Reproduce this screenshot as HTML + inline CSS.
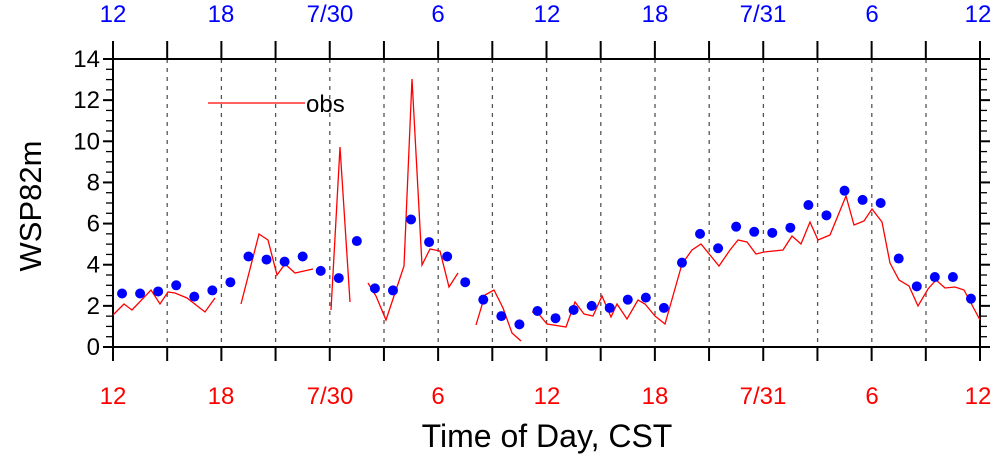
<!DOCTYPE html>
<html><head><style>body{margin:0;background:#fff}svg{display:block}text{font-family:"Liberation Sans",sans-serif}</style></head><body>
<svg width="1000" height="458" viewBox="0 0 1000 458" xmlns="http://www.w3.org/2000/svg">
<g stroke="#555" stroke-width="1.3" stroke-dasharray="4,5">
<line x1="167.2" y1="59" x2="167.2" y2="347"/><line x1="221.4" y1="59" x2="221.4" y2="347"/><line x1="275.6" y1="59" x2="275.6" y2="347"/><line x1="329.8" y1="59" x2="329.8" y2="347"/><line x1="384" y1="59" x2="384" y2="347"/><line x1="438.2" y1="59" x2="438.2" y2="347"/><line x1="492.4" y1="59" x2="492.4" y2="347"/><line x1="546.6" y1="59" x2="546.6" y2="347"/><line x1="600.8" y1="59" x2="600.8" y2="347"/><line x1="655" y1="59" x2="655" y2="347"/><line x1="709.2" y1="59" x2="709.2" y2="347"/><line x1="763.4" y1="59" x2="763.4" y2="347"/><line x1="817.6" y1="59" x2="817.6" y2="347"/><line x1="871.8" y1="59" x2="871.8" y2="347"/><line x1="926" y1="59" x2="926" y2="347"/>
</g>
<g id="ticks" stroke="#000" stroke-width="2"></g>
<rect x="113" y="59" width="867" height="288" fill="none" stroke="#000" stroke-width="2"/>
<g fill="none" stroke="#f00" stroke-width="1.3">
<polyline points="113,315 124,304 132,310 151,290 160,304 168,292 175,293 187,298 205,312 215,298"/>
<polyline points="241,304 259,234 268,240 277,275 285,264 295,273 313,269"/>
<polyline points="331,310 340,147 350,302"/>
<polyline points="368,283 376,296 386,320 404,266 412,79 422,265 430,249 440,251 449,287 458,273"/>
<polyline points="476,325 485,295 494,290 503,308 512,333 521,341"/>
<polyline points="532,312 537,312 547,324 566,327 575,302 584,314 593,316 602,296 611,317 617,304 627,319 638,300 645,304 655,316 665,324 682,264 692,250 701,244 719,266 730,250 738,240 747,242 756,254 764,252 783,250 792,236 801,244 810,222 818,240 830,235 846,196 854,225 864,221 872,209 882,222 890,263 899,280 909,286 918,306 928,289 936,280 945,288 955,287 964,290 980,320"/>
<line x1="208" y1="103" x2="305" y2="103"/>
</g>
<text x="306" y="112" font-size="24">obs</text>
<g id="dots" fill="#00f"></g>
<g font-size="24" fill="#000" text-anchor="end" id="yl"></g>
<g font-size="24" fill="#f00" text-anchor="middle">
<text x="113" y="404">12</text><text x="221" y="404">18</text><text x="330" y="404">7/30</text><text x="438" y="404">6</text><text x="547" y="404">12</text><text x="655" y="404">18</text><text x="763" y="404">7/31</text><text x="872" y="404">6</text><text x="978" y="404">12</text>
</g>
<g font-size="24" fill="#00f" text-anchor="middle">
<text x="113" y="22">12</text><text x="221" y="22">18</text><text x="330" y="22">7/30</text><text x="438" y="22">6</text><text x="547" y="22">12</text><text x="655" y="22">18</text><text x="763" y="22">7/31</text><text x="872" y="22">6</text><text x="978" y="22">12</text>
</g>
<text x="547" y="447" font-size="32" text-anchor="middle">Time of Day, CST</text>
<text transform="translate(41,206) rotate(-90)" font-size="31" text-anchor="middle">WSP82m</text>
</svg>
<script>
var ns="http://www.w3.org/2000/svg";
function el(p,t,a){var e=document.createElementNS(ns,t);for(var k in a)e.setAttribute(k,a[k]);p.appendChild(e);return e;}
var tk=document.getElementById("ticks");
for(var i=0;i<=16;i++){var x=113+i*54.1875;el(tk,"line",{x1:x,y1:347,x2:x,y2:361});el(tk,"line",{x1:x,y1:59,x2:x,y2:41});}
var yl=document.getElementById("yl");
for(var v=0;v<=14;v+=0.5){var y=347-v*20.571;var maj=(v%2==0);var L=maj?10:7;
el(tk,"line",{x1:113-L,y1:y,x2:113,y2:y,"stroke-width":maj?2:1.3});
el(tk,"line",{x1:980,y1:y,x2:980+L,y2:y,"stroke-width":maj?2:1.3});
if(maj){var t=el(yl,"text",{x:100,y:y+8});t.textContent=v;}}
var d=[2.6,2.6,2.7,3.0,2.45,2.75,3.15,4.4,4.25,4.15,4.4,3.7,3.35,5.15,2.85,2.75,6.2,5.1,4.4,3.15,2.3,1.5,1.1,1.75,1.4,1.8,2.0,1.9,2.3,2.4,1.9,4.1,5.5,4.8,5.85,5.6,5.55,5.8,6.9,6.4,7.6,7.15,7.0,4.3,2.95,3.4,3.4,2.35];
var g=document.getElementById("dots");
d.forEach(function(v,i){el(g,"circle",{cx:113+9.03+i*18.0625,cy:347-v*20.571,r:5});});
</script>
</body></html>
